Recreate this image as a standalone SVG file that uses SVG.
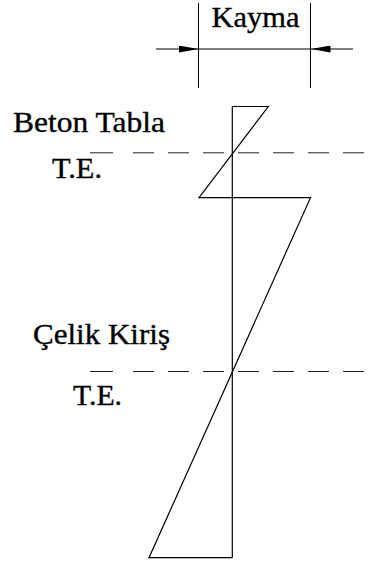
<svg xmlns="http://www.w3.org/2000/svg" width="370" height="564" viewBox="0 0 370 564">
<style>
.t{font-family:"Liberation Serif","Times New Roman",serif;font-size:28.5px;fill:#000;stroke:#000;stroke-width:0.35}
.ln{fill:none;stroke:#000;stroke-width:1.2}
.dim{fill:none;stroke:#000;stroke-width:1}
.dash{fill:none;stroke:#222;stroke-width:1;stroke-dasharray:23 20 21 14 21 14 21 14 21 14 21 14 21 14 21 14}
</style>
<defs>
<marker id="ah" viewBox="0 0 20 7" refX="20" refY="3.5" markerWidth="20" markerHeight="7" markerUnits="userSpaceOnUse" orient="auto">
<path d="M0,0 L20,3.5 L0,7 Z" fill="#000"/>
</marker>
</defs>
<rect width="370" height="564" fill="#fff"/>
<g id="dimension">
<line class="dim" x1="198.5" y1="3" x2="198.5" y2="88"/>
<line class="dim" x1="310.5" y1="3" x2="310.5" y2="88"/>
<line class="dim" x1="156" y1="49" x2="198.5" y2="49" marker-end="url(#ah)"/>
<line class="dim" x1="198.5" y1="49" x2="310.5" y2="49"/>
<line class="dim" x1="353" y1="49" x2="310.5" y2="49" marker-end="url(#ah)"/>
<text class="t" x="211.5" y="26.5" textLength="88" lengthAdjust="spacingAndGlyphs">Kayma</text>
</g>
<g id="axes">
<line class="dash" x1="90" y1="152.8" x2="370" y2="152.8"/>
<line class="dash" x1="90" y1="371.5" x2="370" y2="371.5"/>
</g>
<g id="labels">
<text class="t" x="13" y="131.5" textLength="152" lengthAdjust="spacingAndGlyphs">Beton Tabla</text>
<text class="t" x="52" y="177.5" textLength="50" lengthAdjust="spacingAndGlyphs">T.E.</text>
<text class="t" x="33" y="343.5" textLength="137" lengthAdjust="spacingAndGlyphs">Çelik Kiriş</text>
<text class="t" x="73" y="404.5" textLength="49" lengthAdjust="spacingAndGlyphs">T.E.</text>
</g>
<g id="diagram">
<line class="ln" x1="232.3" y1="106.5" x2="232.3" y2="557.7"/>
<polyline class="ln" points="232.3,106.5 268.3,106.5 199,197.7 310.5,197.7 149,557.7 232.3,557.7"/>
</g>
</svg>
